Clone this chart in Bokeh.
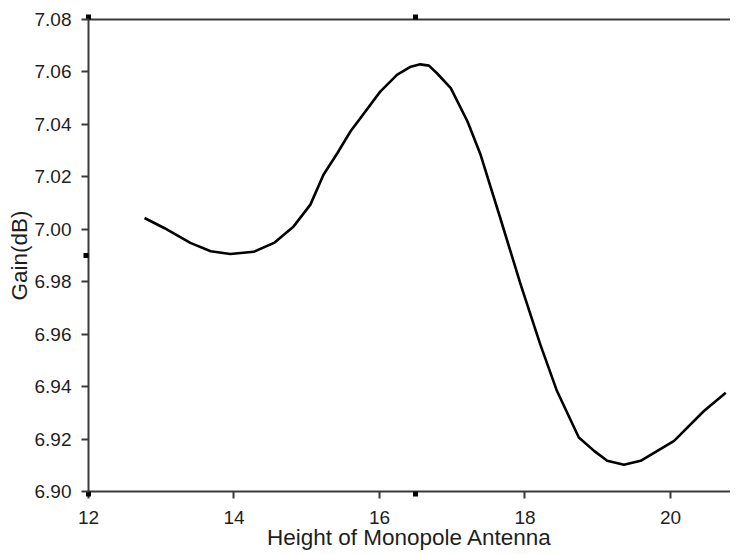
from bokeh.plotting import figure
from bokeh.models import Range1d, LinearAxis, FixedTicker, PrintfTickFormatter
from bokeh.embed import file_html
from bokeh.resources import INLINE

# Data
height = [12.77, 13.04, 13.40, 13.68, 13.95, 14.27, 14.55, 14.82, 15.05, 15.23,
          15.42, 15.60, 16.01, 16.24, 16.43, 16.56, 16.68, 16.79, 16.98, 17.21, 17.39,
          17.66, 17.94, 18.21, 18.44, 18.74, 18.95, 19.13, 19.36, 19.59, 20.05, 20.46,
          20.76]
gain = [7.0043, 7.0005, 6.9948, 6.9916, 6.9906, 6.9914, 6.9948, 7.0011, 7.0094,
        7.0208, 7.0290, 7.0373, 7.0525, 7.0589, 7.0620, 7.0629, 7.0624, 7.0595, 7.0538,
        7.0411, 7.0284, 7.0043, 6.9790, 6.9561, 6.9383, 6.9206, 6.9155, 6.9117, 6.9102,
        6.9117, 6.9193, 6.9307, 6.9377]

x_ticks = [12, 14, 16, 18, 20]
y_ticks = [6.90, 6.92, 6.94, 6.96, 6.98, 7.00, 7.02, 7.04, 7.06, 7.08]

# small square handle marks sitting just outside the frame
mark_x = [12, 16.5]
mark_y = [6.99]

FONT = "Liberation Sans"
AX = "#3a3a3a"
TXT = "#1e1e1e"

p = figure(width=730, height=554, output_backend="svg", toolbar_location=None,
           x_range=Range1d(12, 20.825), y_range=Range1d(6.90, 7.08),
           x_axis_label="Height of Monopole Antenna", y_axis_label="Gain(dB)",
           min_border_left=88, min_border_right=0, min_border_top=19,
           min_border_bottom=63)
p.grid.visible = False
p.outline_line_color = None
p.background_fill_color = "white"
p.border_fill_color = "white"

bottom = p.below[0]
left = p.left[0]

bottom.ticker = FixedTicker(ticks=x_ticks, minor_ticks=mark_x)
left.ticker = FixedTicker(ticks=y_ticks, minor_ticks=mark_y)
left.formatter = PrintfTickFormatter(format="%.2f")

top = LinearAxis(ticker=FixedTicker(ticks=[], minor_ticks=mark_x),
                 major_label_standoff=0)
p.add_layout(top, "above")

for ax in (bottom, left, top):
    ax.axis_line_color = AX
    ax.axis_line_width = 2
    ax.major_tick_line_color = AX
    ax.major_tick_line_width = 2
    ax.major_tick_out = 7
    ax.major_tick_in = 0
    ax.minor_tick_line_color = "black"
    ax.minor_tick_line_width = 5
    ax.minor_tick_out = 5
    ax.minor_tick_in = 0
    ax.major_label_text_font = FONT
    ax.major_label_text_font_size = "19px"
    ax.major_label_text_color = TXT
    ax.axis_label_text_font = FONT
    ax.axis_label_text_font_size = "22.5px"
    ax.axis_label_text_font_style = "normal"
    ax.axis_label_text_color = TXT

top.major_tick_out = 0

bottom.major_label_standoff = 12
bottom.axis_label_standoff = -2
left.major_label_standoff = 10
left.axis_label_standoff = 0

p.line(height, gain, line_color="black", line_width=2.6, line_join="round")

open("out.html", "w").write(file_html(p, INLINE))
